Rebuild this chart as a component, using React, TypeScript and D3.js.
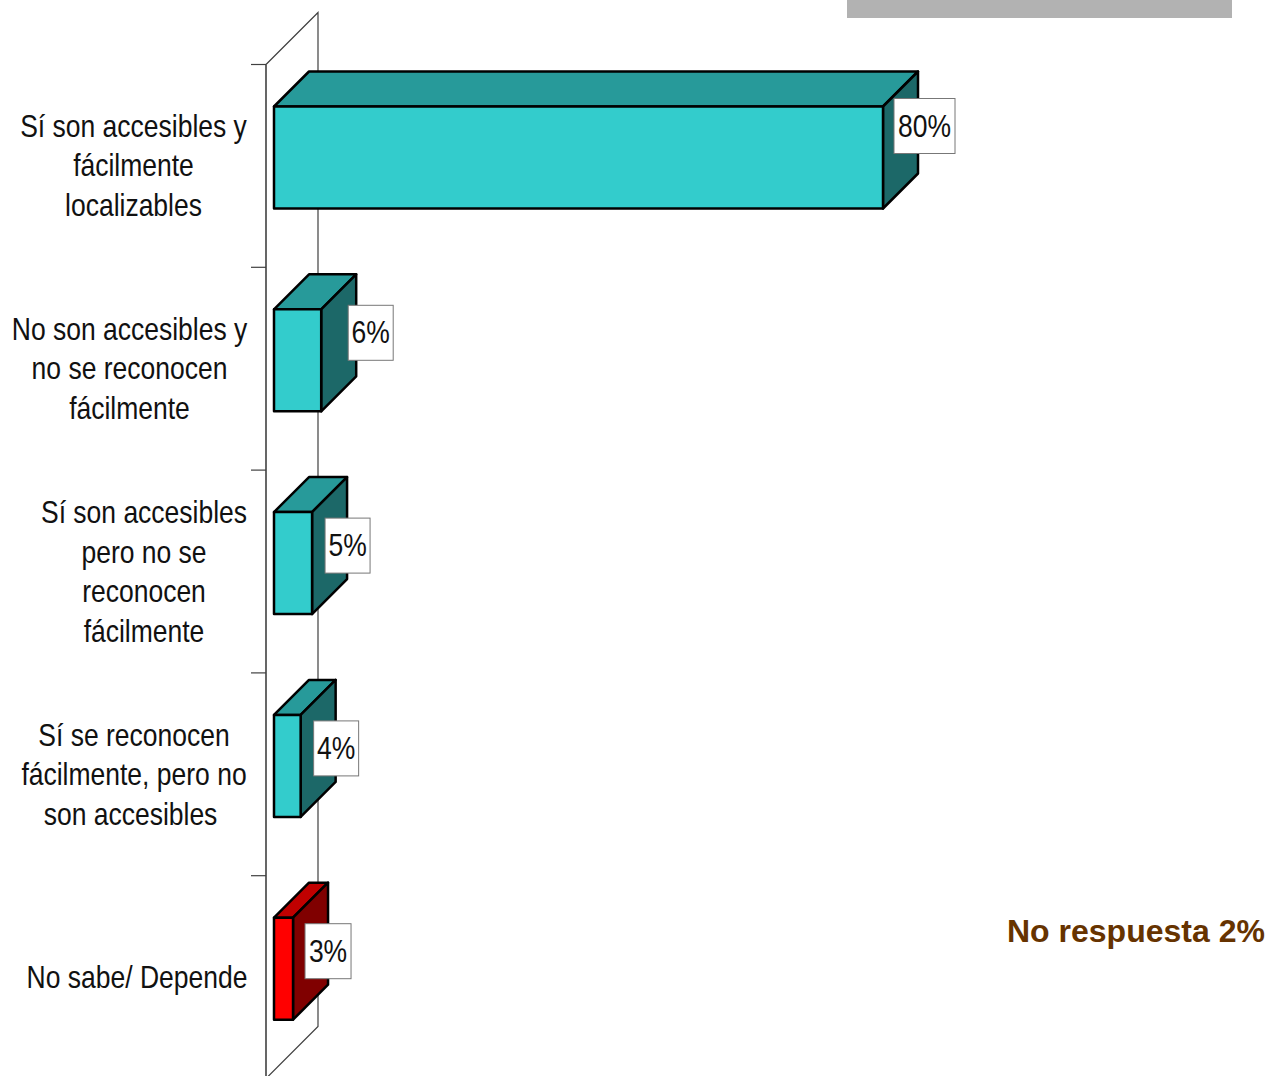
import React from "react";
import * as d3 from "d3";

const categoryLines: string[][] = [
  ["Sí son accesibles y", "fácilmente", "localizables"],
  ["No son accesibles y", "no se reconocen", "fácilmente"],
  ["Sí son accesibles", "pero no se", "reconocen", "fácilmente"],
  ["Sí se reconocen", "fácilmente, pero no", "son accesibles"],
  ["No sabe/ Depende"],
];
const values = [80, 6.2, 5, 3.5, 2.5];
const valueLabels = ["80%", "6%", "5%", "4%", "3%"];
const highlighted = [false, false, false, false, true];

const W = 1268, H = 1076;
const DEPTH = 35;
const FRONT = "#33cccc", TOP = "#279a9a", SIDE = "#1c6868";
const RFRONT = "#ff0000", RTOP = "#c00000", RSIDE = "#800000";
const FONT = "'Liberation Sans', Arial, sans-serif";
const SX = 0.828;

// manual layout of the boxes and text, per category
const boxDx = [11, 27, 13, 13, 12];
const boxDy = [-8, -4, 6, 6, 6];
const boxW = [61, 45, 45, 45, 46];
const labelCx = [
  [133.5, 133.5, 133.5],
  [129.5, 129.5, 129.5],
  [144, 144, 144, 144],
  [134, 134, 130.5],
  [137],
];
const labelBaseDy = [30, 30.5, 11, 31, 70];
const labelLine = 39.5;

export default function App() {
  const x = d3.scaleLinear().domain([0, 80]).range([274, 883]);
  const bandIdx = d3.range(values.length).map(String);
  const y = d3.scaleBand().domain(bandIdx).range([64.5, 1078.5]);
  const backDx = 52;
  const ax0 = 266, ay0 = 64.5, ay1 = 1078.5;
  const barOffset = 42, barH = 102;

  return (
    <svg width={W} height={H} viewBox={`0 0 ${W} ${H}`}
      style={{ position: "absolute", left: 0, top: 0, background: "#fff" }}>
      <rect x={847} y={0} width={385} height={18} fill="#b2b2b2" />

      <path d={`M${ax0},${ay0}L${ax0 + backDx},${ay0 - backDx}V${ay1 - backDx}L${ax0},${ay1}`}
        fill="none" stroke="#404040" strokeWidth={1.2} />
      <line x1={ax0} x2={ax0} y1={ay0} y2={ay1} stroke="#404040" strokeWidth={1.6} />
      {bandIdx.map((k) => (
        <line key={k} x1={ax0 - 15} x2={ax0} y1={y(k)!} y2={y(k)!} stroke="#404040" strokeWidth={1.2} />
      ))}

      {values.map((v, i) => {
        const top = y(String(i))! + barOffset;
        const bot = top + barH;
        const x0 = x(0), x1 = x(v);
        const c = highlighted[i] ? [RFRONT, RTOP, RSIDE] : [FRONT, TOP, SIDE];
        return (
          <g key={i} stroke="#000" strokeWidth={2.5} strokeLinejoin="round">
            <path d={`M${x0},${top}L${x0 + DEPTH},${top - DEPTH}H${x1 + DEPTH}L${x1},${top}Z`} fill={c[1]} />
            <path d={`M${x1},${top}L${x1 + DEPTH},${top - DEPTH}V${bot - DEPTH}L${x1},${bot}Z`} fill={c[2]} />
            <rect x={x0} y={top} width={x1 - x0} height={barH} fill={c[0]} />
          </g>
        );
      })}

      {values.map((v, i) => {
        const top = y(String(i))! + barOffset;
        const bx = x(v) + boxDx[i], by = top + boxDy[i];
        return (
          <g key={i}>
            <rect x={bx} y={by} width={boxW[i]} height={55} fill="#fff" stroke="#777" strokeWidth={1} />
            <text transform={`translate(${bx + boxW[i] / 2},${by + 38}) scale(${SX},1)`} textAnchor="middle"
              fontFamily={FONT} fontSize={32} fill="#111">{valueLabels[i]}</text>
          </g>
        );
      })}

      {categoryLines.map((lines, i) => (
        <g key={i}>
          {lines.map((t, j) => (
            <text key={j}
              transform={`translate(${labelCx[i][j]},${y(String(i))! + labelBaseDy[i] + 42 + j * labelLine}) scale(${SX},1)`}
              textAnchor="middle" fontFamily={FONT} fontSize={32} fill="#111">{t}</text>
          ))}
        </g>
      ))}

      <text x={1007} y={942} fontFamily={FONT} fontSize={32} fontWeight="bold" fill="#663300">No respuesta 2%</text>
    </svg>
  );
}
